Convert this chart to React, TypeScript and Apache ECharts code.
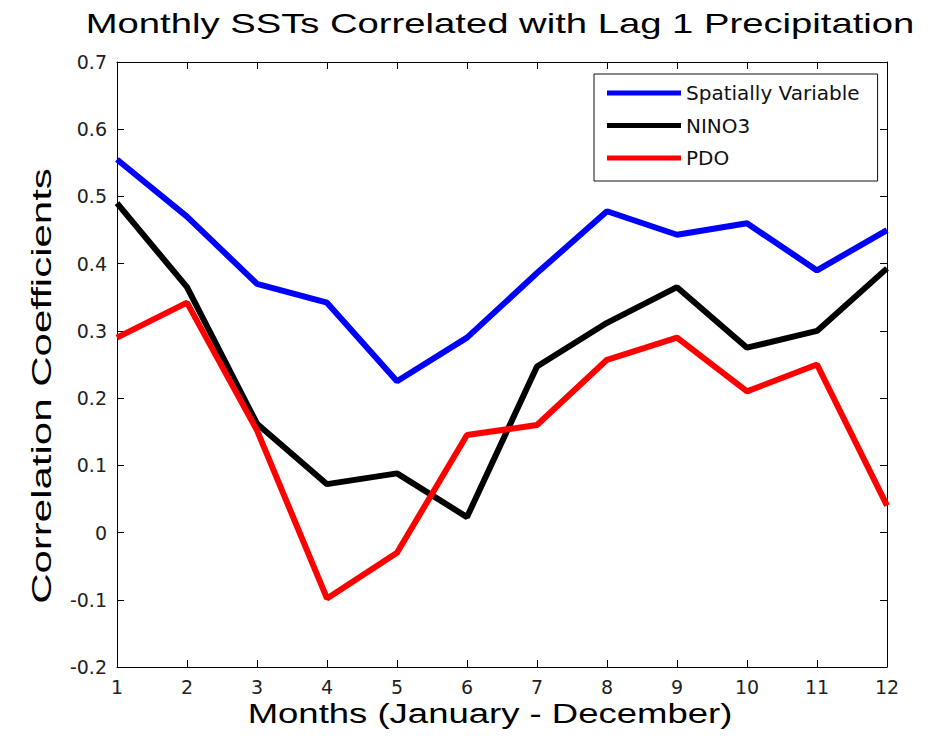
import React, { useEffect, useRef } from "react";
import * as echarts from "echarts";

const months = [1, 2, 3, 4, 5, 6, 7, 8, 9, 10, 11, 12];
const spatiallyVariable = [0.555, 0.47, 0.37, 0.342, 0.225, 0.29, 0.386, 0.478, 0.443, 0.46, 0.39, 0.45];
const nino3 = [0.49, 0.365, 0.162, 0.072, 0.088, 0.023, 0.247, 0.312, 0.365, 0.275, 0.3, 0.393];
const pdo = [0.29, 0.342, 0.152, -0.098, -0.03, 0.145, 0.16, 0.257, 0.29, 0.21, 0.25, 0.04];
const seriesNames = ["Spatially Variable", "NINO3", "PDO"];
const seriesColors = ["#0000ff", "#000000", "#ff0000"];
const titleText = "Monthly SSTs Correlated with Lag 1 Precipitation";
const xName = "Months (January - December)";
const yName = "Correlation Coefficients";

export default function App() {
  const ref = useRef<HTMLDivElement>(null);
  useEffect(() => {
    if (!ref.current) return;
    const chart = echarts.init(ref.current, undefined, { renderer: "svg" });
    const seriesValues = [spatiallyVariable, nino3, pdo];
    const tickFont = { fontFamily: "DejaVu Sans", fontSize: 19, color: "#222" };
    const axisCommon = {
      type: "value" as const,
      axisLine: { show: true, onZero: false, lineStyle: { color: "#000", width: 1 } },
      axisTick: { show: true, inside: true, length: 7, lineStyle: { color: "#000" } },
      splitLine: { show: false },
    };
    const fmt = (v: number) => String(Math.round(v * 10) / 10);
    chart.setOption({
      animation: false,
      backgroundColor: "#fff",
      grid: { left: 117, right: 46, top: 62, bottom: 79, containLabel: false },
      xAxis: [
        { ...axisCommon, position: "bottom", min: 1, max: 12, interval: 1,
          axisLabel: { ...tickFont, margin: 10, formatter: (v: number) => String(v) } },
        { ...axisCommon, position: "top", min: 1, max: 12, interval: 1, axisLabel: { show: false } },
      ],
      yAxis: [
        { ...axisCommon, position: "left", min: -0.2, max: 0.7, interval: 0.1,
          axisLabel: { ...tickFont, margin: 10, formatter: fmt } },
        { ...axisCommon, position: "right", min: -0.2, max: 0.7, interval: 0.1, axisLabel: { show: false } },
      ],
      legend: {
        orient: "vertical",
        left: 594,
        top: 74,
        padding: [9, 18, 13, 13],
        itemGap: 12.5,
        itemWidth: 74,
        itemHeight: 5,
        icon: "rect",
        borderColor: "#111",
        borderWidth: 1,
        backgroundColor: "#fff",
        textStyle: { fontFamily: "DejaVu Sans", fontSize: 20, color: "#111" },
        data: seriesNames,
      },
      series: seriesNames.map((name, i) => ({
        name,
        type: "line",
        symbol: "none",
        color: seriesColors[i],
        lineStyle: { width: 6, color: seriesColors[i] },
        data: months.map((m, j) => [m, seriesValues[i][j]]),
      })),
      graphic: [
        {
          type: "text",
          x: 500,
          y: 23,
          scaleX: 1.366,
          style: { text: titleText, fontFamily: "Liberation Sans", fontSize: 28, fill: "#000", align: "center", verticalAlign: "middle" },
        },
        {
          type: "text",
          x: 490,
          y: 714,
          scaleX: 1.304,
          style: { text: xName, fontFamily: "Liberation Sans", fontSize: 28, fill: "#000", align: "center", verticalAlign: "middle" },
        },
        {
          type: "text",
          x: 42,
          y: 386,
          rotation: Math.PI / 2,
          scaleX: 1.5,
          style: { text: yName, fontFamily: "Liberation Sans", fontSize: 28, fill: "#000", align: "center", verticalAlign: "middle" },
        },
      ],
    });
    return () => chart.dispose();
  }, []);
  return (
    <div
      ref={ref}
      style={{ position: "absolute", left: 0, top: 0, width: 933, height: 746, background: "#fff" }}
    />
  );
}
